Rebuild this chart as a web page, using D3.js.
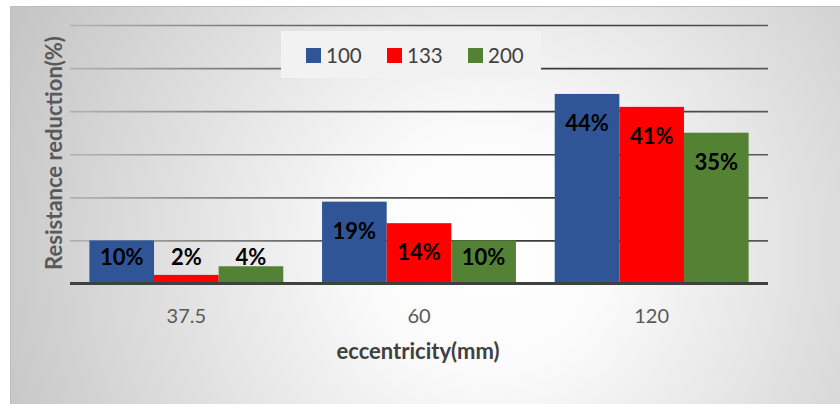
<!DOCTYPE html>
<html>
<head>
<meta charset="utf-8">
<script src="https://cdn.jsdelivr.net/npm/d3@7"></script>
<style>
  html, body { margin: 0; padding: 0; background: #ffffff; }
  svg { display: block; }
</style>
</head>
<body>
<svg id="chart" width="840" height="404"></svg>
<script>
// Eccentricity categories (mm) and resistance reduction (%) for each series
const categories = ["37.5", "60", "120"];
const seriesNames = ["100", "133", "200"];
const values100 = [10, 19, 44];
const values133 = [2, 14, 41];
const values200 = [4, 10, 35];
const yTicks = [0, 10, 20, 30, 40, 50, 60];
const seriesColors = ["#2f5597", "#ff0000", "#548235"];

const seriesValues = [values100, values133, values200];

const W = 840, H = 404;
const plot = { left: 70, right: 768, top: 25, bottom: 283.5 };
const FONT = "Lato, 'Open Sans', sans-serif";

const svg = d3.select("#chart");
const defs = svg.append("defs");

// Soft radial shading of the chart area
const bg = defs.append("radialGradient")
  .attr("id", "bgGrad").attr("gradientUnits", "userSpaceOnUse")
  .attr("cx", 490).attr("cy", 250).attr("r", 540);
bg.append("stop").attr("offset", 0).attr("stop-color", "#ffffff");
bg.append("stop").attr("offset", 0.22).attr("stop-color", "#fbfbfb");
bg.append("stop").attr("offset", 1).attr("stop-color", "#c3c3c3");

// Gridlines fade from dark in the middle to grey toward the edges
const gg = defs.append("radialGradient")
  .attr("id", "gridGrad").attr("gradientUnits", "userSpaceOnUse")
  .attr("cx", 490).attr("cy", 250).attr("r", 540);
gg.append("stop").attr("offset", 0).attr("stop-color", "#151515");
gg.append("stop").attr("offset", 0.38).attr("stop-color", "#2a2a2a");
gg.append("stop").attr("offset", 1).attr("stop-color", "#b0b0b0");

svg.append("rect").attr("x", 0).attr("y", 0).attr("width", W).attr("height", H).attr("fill", "#ffffff");
svg.append("rect").attr("x", 10).attr("y", 6).attr("width", W - 10).attr("height", H - 6)
  .attr("fill", "url(#bgGrad)");
svg.append("line").attr("x1", 10).attr("x2", W).attr("y1", 6.5).attr("y2", 6.5)
  .attr("stroke", "#bdbdbd").attr("stroke-width", 1);
svg.append("line").attr("x1", 10.5).attr("x2", 10.5).attr("y1", 6).attr("y2", H)
  .attr("stroke", "#bdbdbd").attr("stroke-width", 1);

const x0 = d3.scaleBand().domain(categories).range([plot.left, plot.right]).paddingInner(0).paddingOuter(0);
// 60% gap between groups relative to one bar width
const groupW = x0.bandwidth() * 3 / 3.6;
const x1 = d3.scaleBand().domain(seriesNames).range([0, groupW]).padding(0);
const y = d3.scaleLinear().domain([0, 60]).range([plot.bottom, plot.top]);

// Gridlines
const yAxis = d3.axisLeft(y).tickValues(yTicks.filter(t => t > 0)).tickSize(-(plot.right - plot.left)).tickFormat("");
const gy = svg.append("g").attr("transform", `translate(${plot.left},0)`).call(yAxis);
gy.select(".domain").remove();
gy.selectAll(".tick line").attr("stroke", "url(#gridGrad)").attr("stroke-width", 1.6);

// Bars
const groups = svg.append("g").selectAll("g").data(categories).join("g")
  .attr("transform", c => `translate(${x0(c) + (x0.bandwidth() - groupW) / 2},0)`);

groups.selectAll("rect")
  .data((c, i) => seriesNames.map((s, k) => ({ s, k, v: seriesValues[k][i] })))
  .join("rect")
  .attr("x", d => x1(d.s))
  .attr("y", d => y(d.v))
  .attr("width", x1.bandwidth())
  .attr("height", d => y(0) - y(d.v))
  .attr("fill", d => seriesColors[d.k]);

// Value labels at the inside end of each bar
groups.selectAll("text")
  .data((c, i) => seriesNames.map((s, k) => ({ s, k, v: seriesValues[k][i] })))
  .join("text")
  .attr("x", d => x1(d.s) + x1.bandwidth() / 2)
  .attr("y", d => Math.min(y(d.v) + 37, y(0) - 18.5))
  .attr("text-anchor", "middle")
  .attr("font-family", FONT)
  .attr("font-weight", "bold")
  .attr("font-size", 22)
  .attr("fill", "#000000")
  .text(d => d.v + "%");

// Category axis
const xAxis = d3.axisBottom(x0).tickSize(0).tickPadding(0);
const gx = svg.append("g").attr("transform", `translate(0,${plot.bottom})`).call(xAxis);
gx.select(".domain").remove();
gx.selectAll(".tick text")
  .attr("dy", null).attr("y", 39)
  .attr("font-family", FONT)
  .attr("font-size", 20)
  .attr("fill", "#595959");
svg.append("line")
  .attr("x1", plot.left).attr("x2", plot.right)
  .attr("y1", y(0)).attr("y2", y(0))
  .attr("stroke", "#404040").attr("stroke-width", 3);

// Axis titles
svg.append("text")
  .attr("x", 418).attr("y", 359)
  .attr("text-anchor", "middle")
  .attr("font-family", FONT)
  .attr("font-weight", "bold").attr("font-size", 22)
  .attr("fill", "#404040")
  .text("eccentricity(mm)");

svg.append("text")
  .attr("transform", "translate(62,153) rotate(-90)")
  .attr("text-anchor", "middle")
  .attr("font-family", FONT)
  .attr("font-weight", "bold").attr("font-size", 22)
  .attr("fill", "#595959")
  .text("Resistance reduction(%)");

// Legend
const legend = svg.append("g");
legend.append("rect").attr("x", 281).attr("y", 31).attr("width", 260).attr("height", 47).attr("fill", "#f2f2f2");
const legendX = [306, 387, 468];
const items = legend.selectAll("g.item").data(seriesNames).join("g").attr("class", "item")
  .attr("transform", (d, i) => `translate(${legendX[i]},48)`);
items.append("rect").attr("width", 15).attr("height", 15).attr("fill", (d, i) => seriesColors[i]);
items.append("text").attr("x", 20).attr("y", 15)
  .attr("font-family", FONT)
  .attr("font-size", 20.5)
  .attr("fill", "#404040")
  .text(d => d);
</script>
</body>
</html>
